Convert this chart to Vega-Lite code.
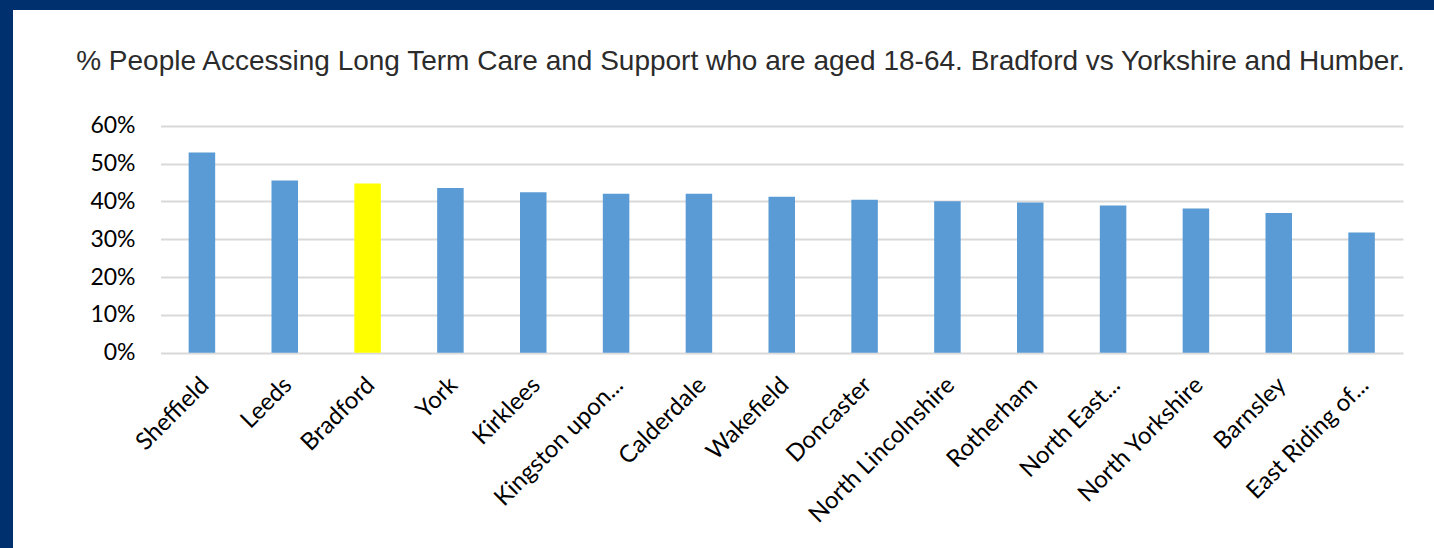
{
  "$schema": "https://vega.github.io/schema/vega-lite/v6.json",
  "width": 1421,
  "height": 538,
  "autosize": {"type": "none"},
  "padding": {"left": 13, "top": 10, "right": 0, "bottom": 0},
  "background": "#00306e",
  "config": {"view": {"fill": "white", "stroke": null}},
  "title": {
    "text": "% People Accessing Long Term Care and Support who are aged 18-64. Bradford vs Yorkshire and Humber.",
    "font": "Liberation Sans",
    "fontSize": 28,
    "fontWeight": "normal",
    "color": "#2b2b2b",
    "anchor": "middle",
    "frame": "group",
    "baseline": "alphabetic",
    "offset": -88,
    "dx": 17
  },
  "data": {
    "values": [
      {"area": "Sheffield", "pct": 0.529},
      {"area": "Leeds", "pct": 0.455},
      {"area": "Bradford", "pct": 0.447},
      {"area": "York", "pct": 0.435},
      {"area": "Kirklees", "pct": 0.424},
      {"area": "Kingston upon...", "pct": 0.42},
      {"area": "Calderdale", "pct": 0.42},
      {"area": "Wakefield", "pct": 0.412},
      {"area": "Doncaster", "pct": 0.404},
      {"area": "North Lincolnshire", "pct": 0.4},
      {"area": "Rotherham", "pct": 0.397},
      {"area": "North East...", "pct": 0.389},
      {"area": "North Yorkshire", "pct": 0.381},
      {"area": "Barnsley", "pct": 0.369},
      {"area": "East Riding of...", "pct": 0.318}
    ]
  },
  "mark": {"type": "bar"},
  "encoding": {
    "x": {
      "field": "area",
      "type": "nominal",
      "sort": null,
      "scale": {"range": [147.5, 1390], "paddingInner": 0.68, "paddingOuter": 0.34},
      "axis": {
        "title": null,
        "offset": -195.3,
        "domain": false,
        "ticks": false,
        "labelAngle": -45,
        "labelFont": "Lato",
        "labelFontSize": 24,
        "labelColor": "#000000",
        "labelPadding": 20,
        "labelOffset": -5,
        "labelOverlap": false,
        "labelLimit": 0,
        "labelBound": false
      }
    },
    "y": {
      "field": "pct",
      "type": "quantitative",
      "scale": {"domain": [-0.5162, 0.9058], "nice": false},
      "axis": {
        "title": null,
        "values": [0, 0.1, 0.2, 0.3, 0.4, 0.5, 0.6],
        "format": ".0%",
        "offset": -147.5,
        "domain": false,
        "grid": false,
        "ticks": true,
        "tickSize": -1242.5,
        "tickColor": "#d9d9d9",
        "tickWidth": 2,
        "labelPadding": 1268,
        "labelFont": "Lato",
        "labelFontSize": 23,
        "labelColor": "#000000",
        "labelBound": false
      }
    },
    "color": {
      "condition": {"test": "datum.area === 'Bradford'", "value": "#ffff00"},
      "value": "#5b9bd5"
    }
  }
}
